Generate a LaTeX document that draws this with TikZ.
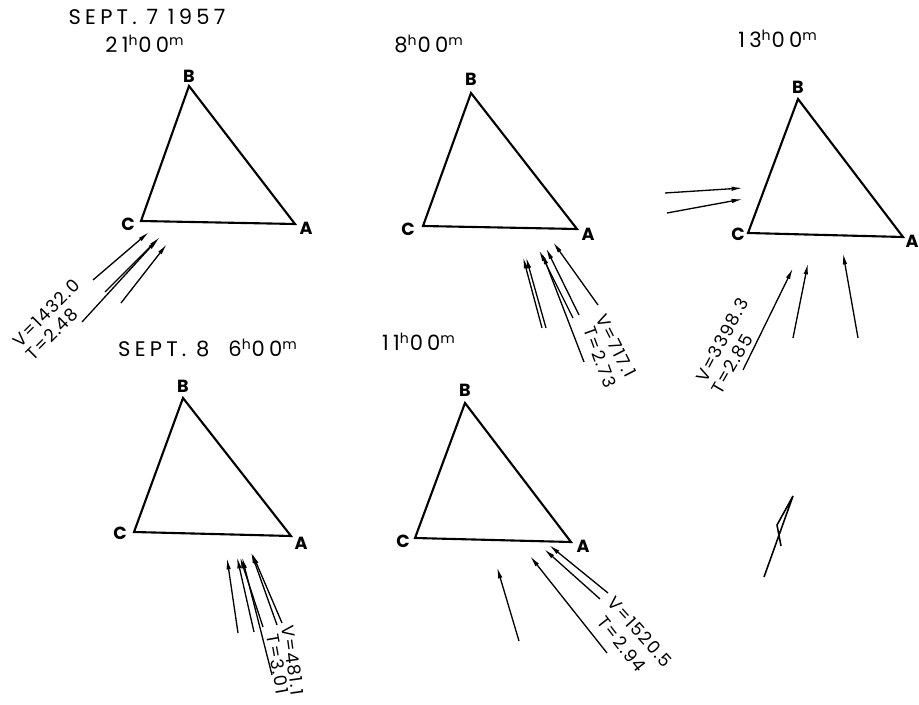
\documentclass[tikz,border=0pt]{standalone}
\usepackage{fontspec}
\setmainfont{Poppins}
\usetikzlibrary{arrows.meta}

\begin{document}
\begin{tikzpicture}[x=0.02cm, y=-0.02cm, >={Latex[length=6.5pt, width=2.5pt]},
	side/.style={line width=1.2pt, line join=miter},
	vec/.style={->, line width=0.75pt},
	vtx/.style={font=\fontsize{10}{12}\selectfont\bfseries, inner sep=0pt},
	hdr/.style={font=\fontsize{12}{14}\selectfont\addfontfeatures{LetterSpace=20}, inner sep=0pt, anchor=base},
	val/.style={font=\fontsize{10}{12}\selectfont\addfontfeatures{LetterSpace=8}, inner sep=0pt}]
	\useasboundingbox (0,0) rectangle (919,705);

	% Sept. 7, 21h
	\node[hdr] (date1) at (147,25) {SEPT. 7 1957};
	\node[hdr] (h21) at (145,53) {21\textsuperscript{h}00\textsuperscript{m}};
	\coordinate (A1) at (295,224);
	\coordinate (B1) at (189,86);
	\coordinate (C1) at (141,221);
	\draw[side] (A1) -- (B1) -- (C1) -- cycle;
	\node[vtx] (lA1) at (306,228) {A};
	\node[vtx] (lB1) at (189,76) {B};
	\node[vtx] (lC1) at (128,224) {C};
	\draw[vec] (93,280) -- (149,232);
	\draw[vec] (105,292) -- (160,237);
	\draw[vec] (82,322) -- (158,239);
	\draw[vec] (121,303) -- (167,244);
	\node[val, rotate=45] (v1) at (46,313) {V=1432.0};
	\node[val, rotate=45] (t1) at (52,334) {T=2.48};

	% 8h
	\node[hdr] (h8) at (429,53) {8\textsuperscript{h}00\textsuperscript{m}};
	\coordinate (A2) at (577,229);
	\coordinate (B2) at (471,93);
	\coordinate (C2) at (423,226);
	\draw[side] (A2) -- (B2) -- (C2) -- cycle;
	\node[vtx] (lA2) at (588,234) {A};
	\node[vtx] (lB2) at (471,79) {B};
	\node[vtx] (lC2) at (408,229) {C};
	\draw[vec] (542,328) -- (523,257);
	\draw[vec] (546,328) -- (526,257);
	\draw[vec] (573,318) -- (539,250);
	\draw[vec] (579,315) -- (546,248);
	\draw[vec] (584,362) -- (542,253);
	\draw[vec] (598,305) -- (553,242);
	\node[val, rotate=-63] (v2) at (616,346) {V=717.1};
	\node[val, rotate=-70] (t2) at (600,357) {T=2.73};

	% 13h
	\node[hdr] (h13) at (778,48) {13\textsuperscript{h}00\textsuperscript{m}};
	\coordinate (A3) at (903,237);
	\coordinate (B3) at (798,99);
	\coordinate (C3) at (748,233);
	\draw[side] (A3) -- (B3) -- (C3) -- cycle;
	\node[vtx] (lA3) at (912,241) {A};
	\node[vtx] (lB3) at (798,87) {B};
	\node[vtx] (lC3) at (738,234) {C};
	\draw[vec] (665,193) -- (743,188);
	\draw[vec] (667,213) -- (743,199);
	\draw[vec] (743,370) -- (793,268);
	\draw[vec] (793,338) -- (808,263);
	\draw[vec] (858,338) -- (843,253);
	\node[val, rotate=62] (v3) at (722,340) {V=3398.3};
	\node[val, rotate=60] (t3) at (732,364) {T=2.85};
	\draw[line width=0.9pt] (764,577) -- (793,496) -- (777,525) -- (781,546);

	% Sept. 8, 6h
	\node[hdr] (h6) at (208,357) {SEPT. 8\hspace{0.9em}6\textsuperscript{h}00\textsuperscript{m}};
	\coordinate (A4) at (291,536);
	\coordinate (B4) at (183,398);
	\coordinate (C4) at (134,532);
	\draw[side] (A4) -- (B4) -- (C4) -- cycle;
	\node[vtx] (lA4) at (301,543) {A};
	\node[vtx] (lB4) at (183,386) {B};
	\node[vtx] (lC4) at (120,533) {C};
	\draw[vec] (238,633) -- (227,558);
	\draw[vec] (254,632) -- (237,557);
	\draw[vec] (263,627) -- (240,557);
	\draw[vec] (272,675) -- (242,557);
	\draw[vec] (277,625) -- (251,552);
	\draw[vec] (282,623) -- (252,553);
	\node[val, rotate=-82] (v4) at (293,660) {V=481.1};
	\node[val, rotate=-80] (t4) at (278,664) {T=3.01};

	% 11h
	\node[hdr] (h11) at (419,351) {11\textsuperscript{h}00\textsuperscript{m}};
	\coordinate (A5) at (571,542);
	\coordinate (B5) at (465,403);
	\coordinate (C5) at (415,538);
	\draw[side] (A5) -- (B5) -- (C5) -- cycle;
	\node[vtx] (lA5) at (583,546) {A};
	\node[vtx] (lB5) at (465,390) {B};
	\node[vtx] (lC5) at (403,541) {C};
	\draw[vec] (519,641) -- (497,567);
	\draw[vec] (607,653) -- (530,556);
	\draw[vec] (600,599) -- (544,549);
	\draw[vec] (608,593) -- (549,545);
	\node[val, rotate=-48] (v5) at (640,632) {V=1520.5};
	\node[val, rotate=-52] (t5) at (622,644) {T=2.94};
\end{tikzpicture}
\end{document}
